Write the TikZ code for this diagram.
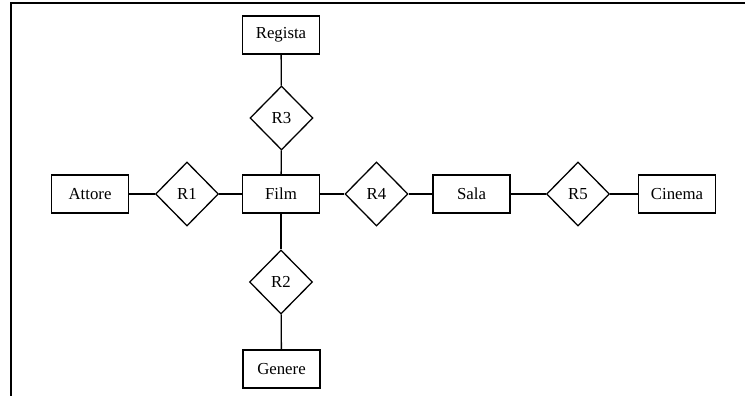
\documentclass[tikz,border=0pt]{standalone}
\usepackage{fontspec}
\setmainfont{Liberation Serif}
\usetikzlibrary{shapes.geometric}
\begin{document}
\begin{tikzpicture}[x=1pt,y=-1pt,
  entity/.style={draw,line width=1.3pt,minimum width=77pt,minimum height=38pt,inner sep=0pt,font=\fontsize{16.8}{18}\selectfont},
  relation/.style={draw,diamond,line width=1.3pt,minimum width=63pt,minimum height=64pt,inner sep=0pt,font=\fontsize{16.8}{18}\selectfont},
  link/.style={line width=1.3pt}]
\useasboundingbox (0,0) rectangle (745,396);
\draw[line width=2pt] (745,3.5) -- (11,3.5) -- (11,396);
\node[entity] (regista) at (281,35) {Regista};
\node[relation] (r3) at (281.5,118) {R3};
\node[entity] (film) at (281,194) {Film};
\node[entity] (attore) at (90,194) {Attore};
\node[relation] (r1) at (187,194) {R1};
\node[relation] (r4) at (376.5,194) {R4};
\node[entity] (sala) at (471.5,194) {Sala};
\node[relation] (r5) at (578,194) {R5};
\node[entity] (cinema) at (677,194) {Cinema};
\node[relation] (r2) at (281,282) {R2};
\node[entity] (genere) at (281.5,369) {Genere};
\draw[link] (regista) -- (r3);
\draw[link] (r3) -- (film);
\draw[link] (attore) -- (r1);
\draw[link] (r1) -- (film);
\draw[link] (film) -- (r4);
\draw[link] (r4) -- (sala);
\draw[link] (sala) -- (r5);
\draw[link] (r5) -- (cinema);
\draw[link] (film) -- (r2);
\draw[link] (r2) -- (genere);
\end{tikzpicture}
\end{document}
